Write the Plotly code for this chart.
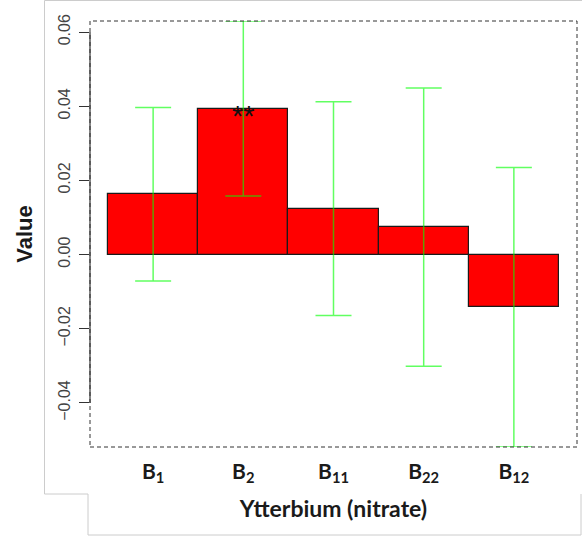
import plotly.graph_objects as go

categories = ["B1", "B2", "B11", "B22", "B12"]
tick_labels = ["<b>B<sub>1</sub></b>", "<b>B<sub>2</sub></b>", "<b>B<sub>11</sub></b>",
               "<b>B<sub>22</sub></b>", "<b>B<sub>12</sub></b>"]
values = [0.0163, 0.0394, 0.0124, 0.0074, -0.0142]
errors = [0.0234, 0.0236, 0.0288, 0.0375, 0.0377]
y_tick_vals = [-0.04, -0.02, 0.0, 0.02, 0.04, 0.06]
y_tick_text = ["\u22120.04", "\u22120.02", "0.00", "0.02", "0.04", "0.06"]
signif_label = "**"
signif_index = 1

W, H = 582, 540
L, R, T, B = 90, 5, 21, 93
PW, PH = W - L - R, H - T - B

def px_x(p):
    return (p - L) / PW

def px_y(p):
    return (H - B - p) / PH

x_pos = list(range(len(categories)))

fig = go.Figure()
fig.add_trace(go.Bar(
    x=x_pos, y=values,
    marker=dict(color="#ff0000", line=dict(color="#1a1a1a", width=1.2)),
    width=1.0,
    error_y=dict(type="data", array=errors, visible=True,
                 color="rgba(0,255,0,0.62)", thickness=1.5, width=18),
    showlegend=False, hoverinfo="skip",
))

shapes = []
# dashed box around plot region
shapes.append(dict(type="rect", xref="paper", yref="paper", x0=0, x1=1, y0=0, y1=1,
                   line=dict(color="#333333", width=1, dash="4px,3px"), layer="above"))
# y axis line (R style, only between outer ticks)
shapes.append(dict(type="line", xref="paper", yref="y", x0=0, x1=0,
                   y0=min(y_tick_vals), y1=max(y_tick_vals),
                   line=dict(color="#333333", width=1.2)))
# outer light-gray frame
frame = [(44.5, 0.5), (44.5, 494), (88, 494), (88, 535), (581, 535), (581, 494)]
for (xa, ya), (xb, yb) in zip(frame[:-1], frame[1:]):
    shapes.append(dict(type="line", xref="paper", yref="paper",
                       x0=px_x(xa), x1=px_x(xb), y0=px_y(ya), y1=px_y(yb),
                       line=dict(color="#cccccc", width=1)))
shapes.append(dict(type="line", xref="paper", yref="paper",
                   x0=px_x(44.5), x1=px_x(582), y0=px_y(0.5), y1=px_y(0.5),
                   line=dict(color="#cccccc", width=1)))

fig.update_layout(
    width=W, height=H,
    margin=dict(l=L, r=R, t=T, b=B, pad=0),
    paper_bgcolor="white", plot_bgcolor="white",
    bargap=0,
    shapes=shapes,
    xaxis=dict(range=[-0.7, 4.7], tickvals=x_pos, ticktext=tick_labels,
               showgrid=False, zeroline=False, showline=False, ticks="",
               tickfont=dict(family="Lato", size=21, color="#1a1a1a"),
               ticklabelstandoff=10,
               title=dict(text="<b>Ytterbium (nitrate)</b>",
                          font=dict(family="Lato", size=23, color="#1a1a1a"),
                          standoff=15)),
    yaxis=dict(range=[-0.0519, 0.063], tickvals=y_tick_vals, ticktext=y_tick_text,
               showgrid=False, zeroline=False, showline=False,
               ticks="outside", ticklen=10, tickcolor="#333333", tickwidth=1.2,
               tickangle=-90, ticklabelstandoff=3,
               tickfont=dict(family="Liberation Sans", size=16, color="#444444"),
               title=dict(text="<b>Value</b>",
                          font=dict(family="Liberation Sans", size=22, color="#1a1a1a"),
                          standoff=16)),
    annotations=[dict(x=signif_index, y=values[signif_index], xref="x", yref="y",
                      text=signif_label, showarrow=False, yanchor="middle",
                      yshift=-7,
                      font=dict(family="Liberation Sans", size=29, color="#111111"))],
)

fig.write_html("out.html")
